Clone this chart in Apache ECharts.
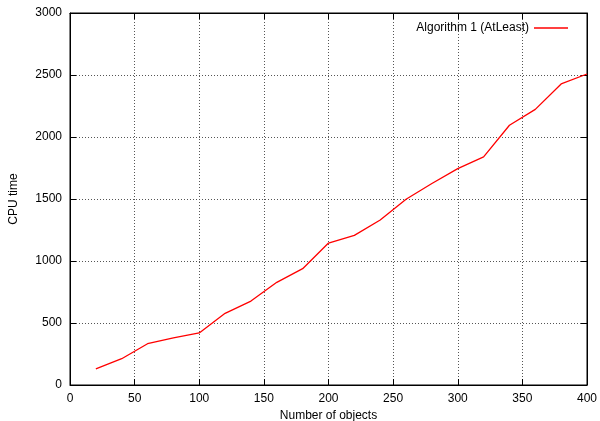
<!DOCTYPE html>
<html>
<head>
<meta charset="utf-8">
<script src="https://cdn.jsdelivr.net/npm/echarts@6/dist/echarts.min.js"></script>
<style>
  html, body { margin: 0; padding: 0; background: #fff; }
  #main { width: 600px; height: 421px; }
</style>
</head>
<body>
<div id="main"></div>
<script>
// data
var objects = [20, 40, 60, 80, 100, 120, 140, 160, 180, 200, 220, 240, 260, 280, 300, 320, 340, 360, 380, 400];
var cpuTime = [130, 212, 333, 380, 420, 578, 677, 828, 938, 1145, 1207, 1331, 1498, 1625, 1745, 1839, 2095, 2223, 2428, 2508];
var seriesName = 'Algorithm 1 (AtLeast)';

var FONT = '"Liberation Sans", Arial, sans-serif';

var myChart = echarts.init(document.getElementById('main'));

var gridLine = { show: true, lineStyle: { color: '#555', type: [1, 2], width: 1 } };
var tickIn = { show: true, inside: true, length: 6, lineStyle: { color: '#000', width: 1 } };

var option = {
    animation: false,
    backgroundColor: '#fff',
    grid: { left: 70, right: 13, top: 13, bottom: 36, containLabel: false, outerBoundsMode: 'none',
            show: true, borderColor: '#000', borderWidth: 1, backgroundColor: 'transparent' },
    legend: {
        data: [{ name: seriesName, icon: 'rect' }],
        right: 27,
        top: 17,
        align: 'right',
        itemWidth: 34,
        itemHeight: 1.5,
        itemGap: 8,
        itemStyle: { color: '#ff0000' },
        textStyle: { fontFamily: FONT, fontSize: 12, color: '#000' }
    },
    xAxis: [{
        type: 'value',
        min: 0, max: 400, interval: 50,
        name: 'Number of objects',
        nameLocation: 'middle',
        nameGap: 24,
        nameTextStyle: { fontFamily: FONT, fontSize: 12, color: '#000' },
        axisLine: { show: true, onZero: false, lineStyle: { color: '#000' } },
        axisTick: tickIn,
        axisLabel: { fontFamily: FONT, fontSize: 12, color: '#000', margin: 8 },
        splitLine: gridLine
    }, {
        type: 'value', position: 'top',
        min: 0, max: 400, interval: 50,
        axisLine: { show: true, onZero: false, lineStyle: { color: '#000' } },
        axisTick: tickIn,
        axisLabel: { show: false },
        splitLine: { show: false }
    }],
    yAxis: [{
        type: 'value',
        min: 0, max: 3000, interval: 500,
        name: 'CPU time',
        nameLocation: 'middle',
        nameGap: 50,
        nameRotate: 90,
        nameTextStyle: { fontFamily: FONT, fontSize: 12, color: '#000' },
        axisLine: { show: true, onZero: false, lineStyle: { color: '#000' } },
        axisTick: tickIn,
        axisLabel: { fontFamily: FONT, fontSize: 12, color: '#000', margin: 8,
                     formatter: function (v) { return String(v); } },
        splitLine: gridLine
    }, {
        type: 'value', position: 'right',
        min: 0, max: 3000, interval: 500,
        axisLine: { show: true, onZero: false, lineStyle: { color: '#000' } },
        axisTick: tickIn,
        axisLabel: { show: false },
        splitLine: { show: false }
    }],
    series: [{
        name: seriesName,
        type: 'line',
        symbol: 'none',
        color: '#ff0000',
        lineStyle: { color: '#ff0000', width: 1.3 },
        data: objects.map(function (x, i) { return [x, cpuTime[i]]; })
    }]
};
myChart.setOption(option);
</script>
</body>
</html>
